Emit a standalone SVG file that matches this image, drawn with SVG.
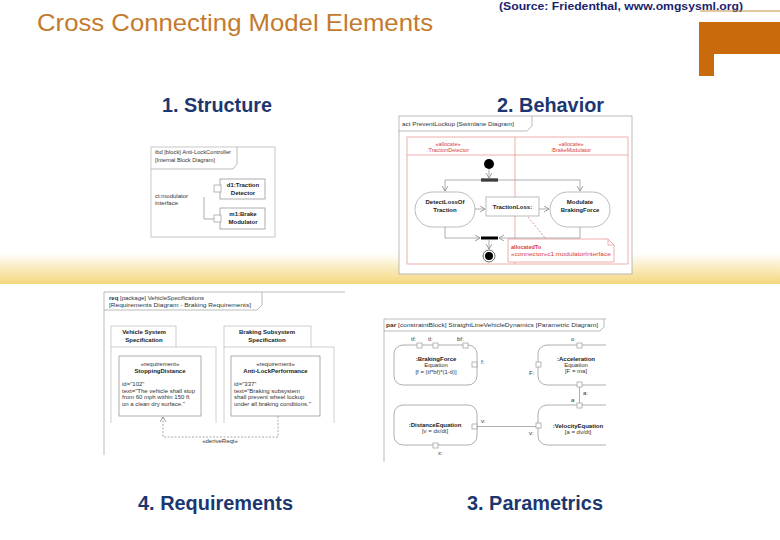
<svg xmlns="http://www.w3.org/2000/svg" width="780" height="540" viewBox="0 0 780 540">
<defs>
<linearGradient id="band" x1="0" y1="0" x2="0" y2="1">
<stop offset="0" stop-color="#ffffff"/>
<stop offset="1" stop-color="#f4d77c"/>
</linearGradient>
<marker id="oa" markerUnits="userSpaceOnUse" markerWidth="7" markerHeight="7" refX="5" refY="3" orient="auto">
<path d="M0,0 L5,3 L0,6" fill="none" stroke="#888" stroke-width="0.8"/>
</marker>
<clipPath id="parclip"><rect x="380" y="312" width="226" height="155"/></clipPath>
<style>
.hd{font-family:"Liberation Sans",Arial,sans-serif;font-weight:bold;font-size:19.5px;fill:#1c3770}
.t{font-family:"Liberation Sans",Arial,sans-serif;font-size:6px;fill:#333}
.tb{font-family:"Liberation Sans",Arial,sans-serif;font-size:6px;font-weight:bold;fill:#222}
.c{text-anchor:middle}
.rt{font-family:"Liberation Sans",Arial,sans-serif;font-size:5.5px;fill:#d83a3a}
.fr{fill:none;stroke:#aaa;stroke-width:0.8}
.bx{fill:#fff;stroke:#999;stroke-width:0.8}
.pt{fill:#fff;stroke:#999;stroke-width:0.7}
.ln{fill:none;stroke:#999;stroke-width:0.8}
.ar{fill:none;stroke:#999;stroke-width:0.8;marker-end:url(#oa)}
.rl{fill:none;stroke:#ec9a9a;stroke-width:0.8}
.pk{fill:none;stroke:#c4c4c4;stroke-width:0.8}
</style>
</defs>
<rect x="0" y="0" width="780" height="540" fill="#fff"/>
<rect x="0" y="253" width="780" height="31" fill="url(#band)"/>

<g id="header">
<text x="37" y="31" font-family="Liberation Sans, Arial, sans-serif" font-size="24" fill="#c47a2c" textLength="396" lengthAdjust="spacingAndGlyphs">Cross Connecting Model Elements</text>
<text x="499" y="10" font-family="Liberation Sans, Arial, sans-serif" font-size="11" font-weight="bold" fill="#1b1f6e" textLength="244" lengthAdjust="spacingAndGlyphs">(Source: Friedenthal, www.omgsysml.org)</text>
<line x1="700" y1="11" x2="780" y2="11" stroke="#c8903e" stroke-width="1"/>
<path d="M699,22 H780 V54 H714 V76 H699 Z" fill="#c96a0c"/>
</g>

<g id="headings">
<text class="hd" x="162" y="112" textLength="110" lengthAdjust="spacingAndGlyphs">1. Structure</text>
<text class="hd" x="497" y="112" textLength="107" lengthAdjust="spacingAndGlyphs">2. Behavior</text>
<text class="hd" x="138" y="510" textLength="155" lengthAdjust="spacingAndGlyphs">4. Requirements</text>
<text class="hd" x="467" y="510" textLength="136" lengthAdjust="spacingAndGlyphs">3. Parametrics</text>
</g>

<!-- 1. Structure: ibd -->
<g id="ibd">
<g id="ibd-frame">
<rect x="151" y="147" width="124" height="90" fill="#fff" stroke="#bbb" stroke-width="0.8"/>
<path class="fr" d="M151,169 H233 L237,164 V147"/>
<text class="t" x="155" y="154" textLength="76" lengthAdjust="spacingAndGlyphs">ibd [block] Anti-LockController</text>
<text class="t" x="155" y="162" textLength="60" lengthAdjust="spacingAndGlyphs">[Internal Block Diagram]</text>
</g>
<g id="ibd-d1">
<rect class="bx" x="220" y="179" width="45" height="20"/>
<rect class="pt" x="214" y="185" width="7" height="7"/>
<text class="tb c" x="243" y="187">d1:Traction</text>
<text class="tb c" x="243" y="195">Detector</text>
</g>
<g id="ibd-m1">
<rect class="bx" x="220" y="208" width="45" height="21"/>
<rect class="pt" x="214" y="215" width="7" height="7"/>
<text class="tb c" x="243" y="216">m1:Brake</text>
<text class="tb c" x="243" y="224">Modulator</text>
</g>
<g id="ibd-connectors">
<path class="ln" d="M204,197 V219 H214"/>
<text class="t" x="155" y="198">ct:modulator</text>
<text class="t" x="155" y="205">interface</text>
</g>
</g>

<!-- 2. Behavior: act -->
<g id="act">
<g id="act-frame">
<rect x="399" y="116" width="233" height="158" fill="#fff" stroke="#aaa" stroke-width="0.8"/>
<path class="fr" d="M399,131 H527 L532,126 V116"/>
<text class="t" x="402" y="126" textLength="112" lengthAdjust="spacingAndGlyphs">act PreventLockup [Swimlane Diagram]</text>
</g>
<g id="act-lanes">
<rect class="rl" x="407" y="137" width="221" height="127"/>
<line class="rl" x1="515" y1="137" x2="515" y2="264"/>
<line class="rl" x1="407" y1="155" x2="628" y2="155"/>
<text class="rt c" x="448" y="146">«allocate»</text>
<text class="rt c" x="448" y="152">:TractionDetector</text>
<text class="rt c" x="571" y="146">«allocate»</text>
<text class="rt c" x="571" y="152">:BrakeModulator</text>
</g>
<g id="act-initial"><circle cx="489" cy="164" r="5" fill="#000"/></g>
<g id="act-fork"><rect x="481" y="178.5" width="17" height="3" fill="#000"/></g>
<g id="act-detect">
<rect x="415" y="192" width="60" height="35" rx="17.5" fill="#fff" stroke="#aaa" stroke-width="0.8"/>
<text class="tb c" x="445" y="204">DetectLossOf</text>
<text class="tb c" x="445" y="212">Traction</text>
</g>
<g id="act-tractionloss">
<rect x="486" y="197" width="53" height="19" fill="#fff" stroke="#aaa" stroke-width="0.8"/>
<text class="tb c" x="512.5" y="209">TractionLoss:</text>
</g>
<g id="act-modulate">
<rect x="550" y="192" width="60" height="35" rx="17.5" fill="#fff" stroke="#aaa" stroke-width="0.8"/>
<text class="tb c" x="580" y="204">Modulate</text>
<text class="tb c" x="580" y="212">BrakingForce</text>
</g>
<g id="act-join"><rect x="481" y="236.5" width="17" height="3" fill="#000"/></g>
<g id="act-final">
<circle cx="489" cy="256" r="6" fill="#fff" stroke="#444" stroke-width="0.8"/>
<circle cx="489" cy="256" r="4" fill="#000"/>
</g>
<g id="act-note">
<path d="M508,239 H608 L614,245 V262 H508 Z" fill="#fff" stroke="#ec9a9a" stroke-width="0.8"/>
<path class="rl" d="M608,239 V245 H614"/>
<text class="rt" x="511" y="249" font-weight="bold">allocatedTo</text>
<text class="rt" x="511" y="256" textLength="100" lengthAdjust="spacingAndGlyphs">«connector»c1:modulatorInterface</text>
</g>
<g id="act-connectors">
<path class="ar" d="M489,169 V178"/>
<path class="ar" d="M489,180 H445 V191"/>
<path class="ar" d="M489,180 H580 V191"/>
<path class="ar" d="M475,209 H485"/>
<path class="ar" d="M539,209 H549"/>
<path class="ar" d="M445,227 V238 H480"/>
<path class="ar" d="M580,227 V238 H499"/>
<path class="ar" d="M489,239.5 V249"/>
<path d="M528,217 L546,239" fill="none" stroke="#d86a6a" stroke-width="0.7" stroke-dasharray="2,1.5"/>
</g>
</g>

<!-- 4. Requirements: req -->
<g id="req">
<g id="req-frame">
<path class="fr" d="M104,455 V292 H345"/>
<path class="fr" d="M104,310 H257 L262,305 V292"/>
<text class="t" x="109" y="300"><tspan font-weight="bold">req</tspan> [package] VehicleSpecifications</text>
<text class="t" x="109" y="307" textLength="142" lengthAdjust="spacingAndGlyphs">[Requirements Diagram - Braking Requirements]</text>
</g>
<g id="req-pkg-vehicle">
<rect class="pk" x="111" y="326" width="65" height="21"/>
<path class="pk" d="M111,347 V423 M176,347 H216 V423"/>
<text class="tb c" x="144" y="334">Vehicle System</text>
<text class="tb c" x="144" y="342">Specification</text>
</g>
<g id="req-stopping">
<rect class="bx" x="119" y="356" width="82" height="60"/>
<text class="t c" x="160" y="366">«requirement»</text>
<text class="tb c" x="160" y="373">StoppingDistance</text>
<text class="t" x="122" y="386">id="102"</text>
<text class="t" x="122" y="392.5">text="The vehicle shall stop</text>
<text class="t" x="122" y="399">from 60 mph within 150 ft</text>
<text class="t" x="122" y="405.5">on a clean dry surface."</text>
</g>
<g id="req-pkg-braking">
<rect class="pk" x="224" y="326" width="87" height="21"/>
<path class="pk" d="M224,347 V423 M311,347 H334 V423"/>
<text class="tb c" x="267" y="334">Braking  Subsystem</text>
<text class="tb c" x="267" y="342">Specification</text>
</g>
<g id="req-antilock">
<rect class="bx" x="231" y="356" width="89" height="60"/>
<text class="t c" x="275.5" y="366">«requirement»</text>
<text class="tb c" x="275.5" y="373">Anti-LockPerformance</text>
<text class="t" x="234" y="386">id="337"</text>
<text class="t" x="234" y="392.5">text="Braking subsystem</text>
<text class="t" x="234" y="399">shall prevent wheel lockup</text>
<text class="t" x="234" y="405.5">under all braking conditions."</text>
</g>
<g id="req-connectors">
<path d="M278,416 V437 H163 V417" fill="none" stroke="#888" stroke-width="0.7" stroke-dasharray="2,1.5" marker-end="url(#oa)"/>
<text class="t c" x="220" y="443">«deriveReqt»</text>
</g>
</g>

<!-- 3. Parametrics: par -->
<g id="par" clip-path="url(#parclip)">
<g id="par-frame">
<path class="fr" d="M384,462 V319 H606"/>
<path class="fr" d="M384,331 H600 L604,327 V319"/>
<text class="t" x="386" y="327" textLength="212" lengthAdjust="spacingAndGlyphs"><tspan font-weight="bold">par</tspan> [constraintBlock] StraightLineVehicleDynamics [Parametric Diagram]</text>
</g>
<g id="par-brakingforce">
<rect class="bx" x="394" y="345" width="83" height="40" rx="9"/>
<rect class="pt" x="417" y="343" width="5" height="5"/>
<rect class="pt" x="433" y="343" width="5" height="5"/>
<rect class="pt" x="463" y="343" width="5" height="5"/>
<rect class="pt" x="472" y="362" width="5" height="5"/>
<text class="t" x="411" y="341">tf:</text>
<text class="t" x="428" y="341">tl:</text>
<text class="t" x="457" y="341">bf:</text>
<text class="t" x="481" y="364">f:</text>
<text class="tb c" x="436" y="361">:BrakingForce</text>
<text class="t c" x="436" y="367">Equation</text>
<text class="t c" x="436" y="374">[f = (tf*bf)*(1-tl)]</text>
</g>
<g id="par-acceleration">
<rect class="bx" x="538" y="345" width="80" height="40" rx="9"/>
<rect class="pt" x="577" y="343" width="5" height="5"/>
<rect class="pt" x="536" y="362" width="5" height="5"/>
<rect class="pt" x="577" y="382" width="5" height="5"/>
<text class="t" x="571" y="341">o</text>
<text class="t" x="529" y="375">F:</text>
<text class="tb c" x="576" y="361">:Acceleration</text>
<text class="t c" x="576" y="367">Equation</text>
<text class="t c" x="576" y="373">[F = ma]</text>
</g>
<g id="par-velocity">
<rect class="bx" x="538" y="405" width="80" height="40" rx="9"/>
<rect class="pt" x="577" y="403" width="5" height="5"/>
<rect class="pt" x="536" y="423" width="5" height="5"/>
<text class="t" x="529" y="435">v:</text>
<text class="tb c" x="578" y="428">:VelocityEquation</text>
<text class="t c" x="578" y="434">[a = dv/dt]</text>
</g>
<g id="par-distance">
<rect class="bx" x="394" y="405" width="83" height="40" rx="9"/>
<rect class="pt" x="472" y="424" width="5" height="5"/>
<rect class="pt" x="433" y="443" width="5" height="5"/>
<text class="t" x="481" y="423">v:</text>
<text class="t" x="438" y="455">x:</text>
<text class="tb c" x="435" y="427">:DistanceEquation</text>
<text class="t c" x="435" y="433">[v = dx/dt]</text>
</g>
<g id="par-connectors">
<line class="ln" x1="579.5" y1="387" x2="579.5" y2="403"/>
<line class="ln" x1="477" y1="426.5" x2="536" y2="426.5"/>
<text class="t" x="583" y="395">a:</text>
<text class="t" x="571" y="402">a</text>
</g>
</g>
</svg>
